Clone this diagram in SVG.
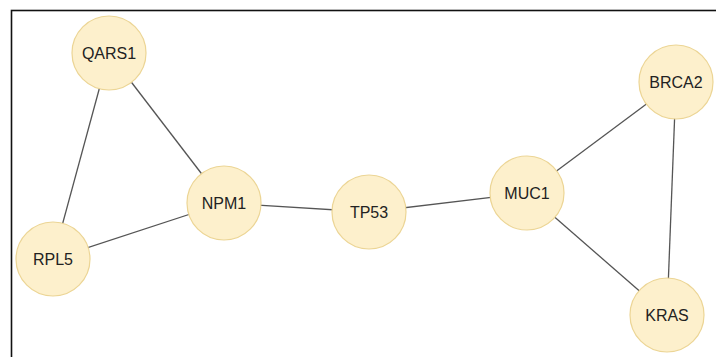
<svg xmlns="http://www.w3.org/2000/svg" width="716" height="357" viewBox="0 0 716 357">
  <style>
    .frame { fill: none; stroke: #111; stroke-width: 1.6; }
    .edge { stroke: #555; stroke-width: 1.3; fill: none; }
    .node circle { fill: #fdf0cc; stroke: #ecd595; stroke-width: 1.2; }
    .node text { font-family: "Liberation Sans", Arial, sans-serif; font-size: 16px; fill: #222; text-anchor: middle; dominant-baseline: central; }
  </style>
  <rect width="716" height="357" fill="#fff"/>
  <rect class="frame" x="11.5" y="10.5" width="720" height="360"/>
  <g id="edges">
    <line class="edge" x1="109" y1="53" x2="53" y2="259"/>
    <line class="edge" x1="109" y1="53" x2="224" y2="203"/>
    <line class="edge" x1="53" y1="259" x2="224" y2="203"/>
    <line class="edge" x1="224" y1="203" x2="369" y2="212"/>
    <line class="edge" x1="369" y1="212" x2="527" y2="193"/>
    <line class="edge" x1="527" y1="193" x2="676" y2="82"/>
    <line class="edge" x1="527" y1="193" x2="667" y2="315"/>
    <line class="edge" x1="676" y1="82" x2="667" y2="315"/>
  </g>
  <g id="QARS1" class="node"><circle cx="109" cy="53" r="37"/><text x="109" y="53">QARS1</text></g>
  <g id="RPL5" class="node"><circle cx="53" cy="259" r="37"/><text x="53" y="259">RPL5</text></g>
  <g id="NPM1" class="node"><circle cx="224" cy="203" r="37"/><text x="224" y="203">NPM1</text></g>
  <g id="TP53" class="node"><circle cx="369" cy="212" r="37"/><text x="369" y="212">TP53</text></g>
  <g id="MUC1" class="node"><circle cx="527" cy="193" r="37"/><text x="527" y="193">MUC1</text></g>
  <g id="BRCA2" class="node"><circle cx="676" cy="82" r="37"/><text x="676" y="82">BRCA2</text></g>
  <g id="KRAS" class="node"><circle cx="667" cy="315" r="37"/><text x="667" y="315">KRAS</text></g>
</svg>
